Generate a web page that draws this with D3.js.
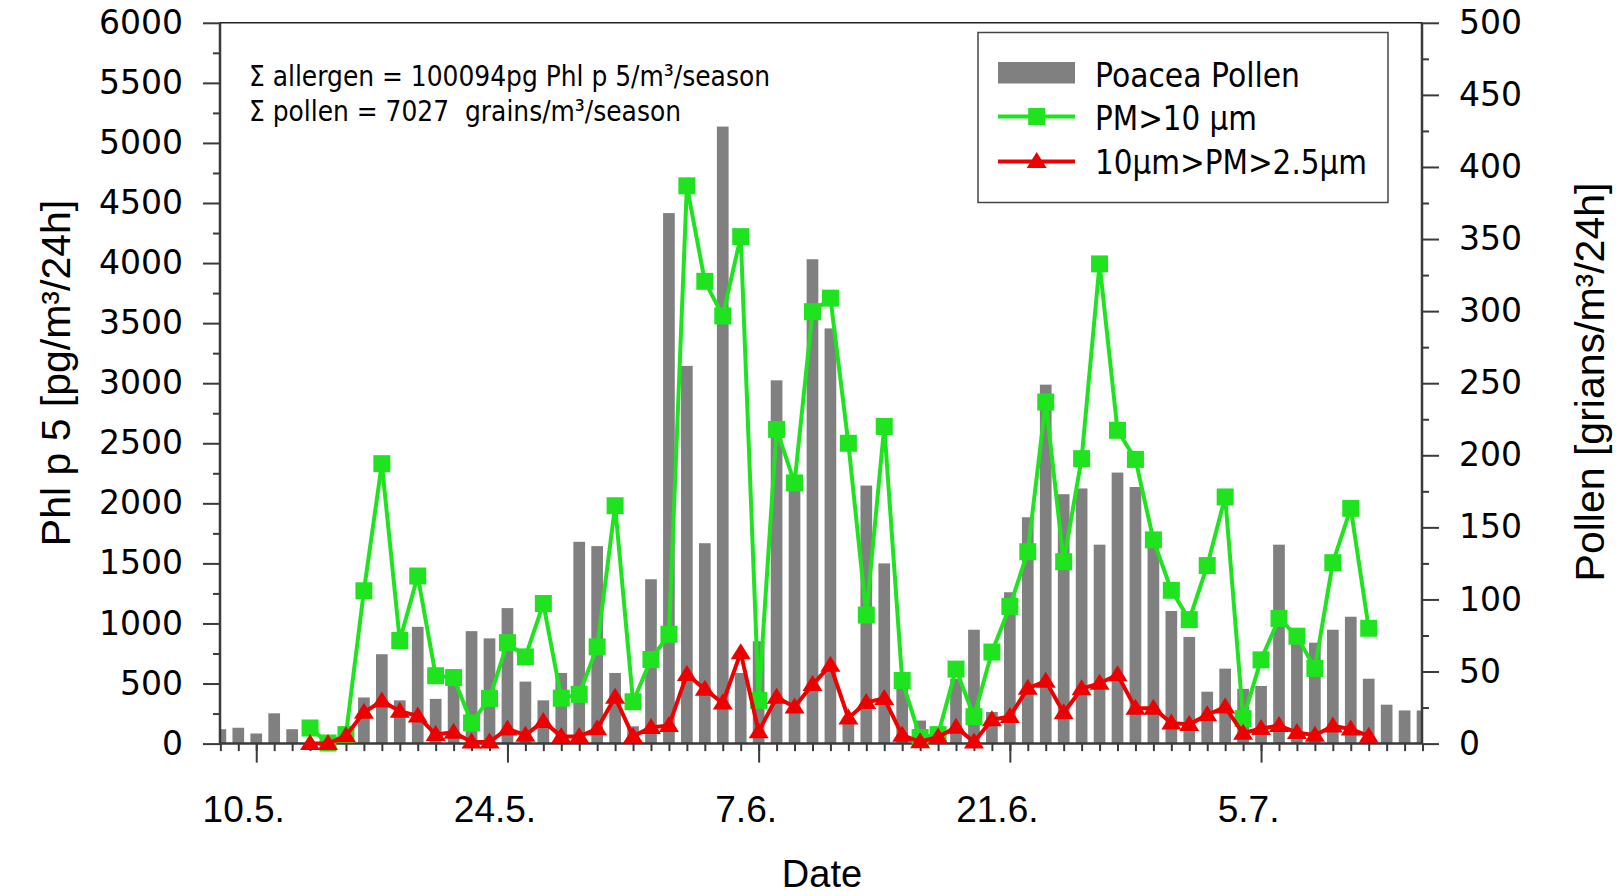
<!DOCTYPE html>
<html><head><meta charset="utf-8">
<script src="https://cdn.jsdelivr.net/npm/d3@7"></script>
<style>body{margin:0;background:#fff}</style>
</head><body>
<svg id="c" width="1624" height="896" xmlns="http://www.w3.org/2000/svg"></svg>
<script>
// ---- data (day offsets relative to 10 May) ----
const barDays = d3.range(-2, 66);
const pollen = [10, 11, 7, 21, 10, 0, 0, 2, 32, 62,
  30, 81, 31, 45, 78, 73, 94, 43, 30, 49,
  140, 137, 49, 12, 114, 368, 262, 139, 428, 49,
  71, 252, 180, 336, 288, 18, 179, 125, 40, 16,
  10, 45, 79, 22, 105, 157, 249, 173, 177, 138,
  188, 178, 137, 92, 74, 36, 52, 38, 40, 138,
  75, 70, 79, 88, 45, 27, 23, 23];
const pmDays = d3.range(3, 63);
const pm10 = [130, 5, 75, 1272, 2330, 858, 1395, 565, 550, 172,
  375, 840, 722, 1166, 378, 410, 805, 1980, 348, 700,
  910, 4643, 3848, 3560, 4220, 360, 2615, 2170, 3595, 3708,
  2500, 1070, 2640, 525, 50, 75, 620, 224, 762, 1142,
  1597, 2843, 1514, 2372, 3993, 2608, 2366, 1696, 1276, 1032,
  1482, 2053, 208, 697, 1042, 894, 626, 1506, 1958, 960];
const pm25 = [0, 0, 65, 260, 355, 270, 230, 75, 95, 14,
  14, 122, 70, 185, 60, 60, 123, 385, 60, 135,
  150, 576, 452, 338, 757, 99, 385, 305, 491, 652,
  213, 343, 375, 70, 15, 55, 137, 13, 198, 226,
  460, 520, 257, 457, 502, 573, 295, 295, 172, 160,
  240, 304, 86, 126, 150, 92, 70, 146, 122, 62];
const dateTickDays = [0, 14, 28, 42, 56];
const dateTickLabels = ["10.5.", "24.5.", "7.6.", "21.6.", "5.7."];
const leftTicks = d3.range(0, 6001, 500);
const rightTicks = d3.range(0, 501, 50);

// ---- layout ----
const L = 220, R = 1422, T = 22.8, B = 743.6;
const GREEN = "#1fe31f", RED = "#ee0000", GRAY = "#808080", AX = "#3a3a3a";
const svg = d3.select("#c");

const x = d3.scaleLinear().domain([-2.02, 64.97]).range([L, R]);
const yL = d3.scaleLinear().domain([0, 6000]).range([B, T]);
const yR = d3.scaleLinear().domain([0, 500]).range([B, T]);
const barW = 11.7;

svg.append("defs").append("clipPath").attr("id", "plotclip")
  .append("rect").attr("x", L).attr("y", 0).attr("width", R - L).attr("height", B);

// bars
svg.append("g").attr("clip-path", "url(#plotclip)")
  .selectAll("rect").data(barDays).join("rect")
  .attr("x", d => x(d) - barW / 2)
  .attr("width", barW)
  .attr("y", (d, i) => yR(pollen[i]))
  .attr("height", (d, i) => B - yR(pollen[i]))
  .attr("fill", GRAY);

// axes
function styleAxis(g) {
  g.select(".domain").remove();
  g.selectAll(".tick line").attr("stroke", AX).attr("stroke-width", 2);
}
const fmt = d3.format("d");
// left
svg.append("g").attr("transform", `translate(${L},0)`)
  .call(d3.axisLeft(yL).tickValues(d3.range(250, 6000, 500)).tickSize(7).tickFormat(""))
  .call(styleAxis);
svg.append("g").attr("transform", `translate(${L},0)`)
  .call(d3.axisLeft(yL).tickValues(leftTicks).tickSize(17).tickPadding(20).tickFormat(fmt))
  .call(styleAxis)
  .call(g => g.selectAll("text").attr("font-family", "DejaVu Sans").attr("font-size", 33).attr("fill", "#000"));
// right
svg.append("g").attr("transform", `translate(${R},0)`)
  .call(d3.axisRight(yR).tickValues(d3.range(25, 500, 50)).tickSize(7).tickFormat(""))
  .call(styleAxis);
svg.append("g").attr("transform", `translate(${R},0)`)
  .call(d3.axisRight(yR).tickValues(rightTicks).tickSize(17).tickPadding(20).tickFormat(fmt))
  .call(styleAxis)
  .call(g => g.selectAll("text").attr("font-family", "DejaVu Sans").attr("font-size", 33).attr("fill", "#000"));
// bottom
svg.append("g").attr("transform", `translate(0,${B})`)
  .call(d3.axisBottom(x).tickValues(barDays).tickSize(7.5).tickFormat(""))
  .call(styleAxis);
svg.append("g").attr("transform", `translate(0,${B})`)
  .call(d3.axisBottom(x).tickValues(dateTickDays).tickSize(19)
    .tickFormat((d, i) => dateTickLabels[i]))
  .call(styleAxis)
  .call(g => g.selectAll("text").attr("font-family", "Liberation Sans").attr("font-size", 37)
    .attr("fill", "#000").attr("dy", null).attr("y", 78).attr("dx", -13));

// frame lines
svg.append("line").attr("x1", L).attr("x2", L).attr("y1", T).attr("y2", B).attr("stroke", AX).attr("stroke-width", 2.5);
svg.append("line").attr("x1", R).attr("x2", R).attr("y1", T).attr("y2", B).attr("stroke", AX).attr("stroke-width", 2.5);
svg.append("line").attr("x1", L).attr("x2", R).attr("y1", B).attr("y2", B).attr("stroke", AX).attr("stroke-width", 2.5);
svg.append("line").attr("x1", L).attr("x2", R).attr("y1", T).attr("y2", T).attr("stroke", "#222").attr("stroke-width", 1.6);

// series
const tri = "M0,-9.5L10,6.5L-10,6.5Z";
function series(vals, color, marker) {
  const line = d3.line().x((d, i) => x(pmDays[i])).y(d => yL(d));
  svg.append("path").datum(vals).attr("d", line).attr("fill", "none")
    .attr("stroke", color).attr("stroke-width", 4).attr("stroke-linejoin", "round");
  const g = svg.append("g");
  if (marker === "square") {
    g.selectAll("rect").data(vals).join("rect")
      .attr("x", (d, i) => x(pmDays[i]) - 8.5).attr("y", d => yL(d) - 8.5)
      .attr("width", 17).attr("height", 17).attr("fill", color);
  } else {
    g.selectAll("path").data(vals).join("path")
      .attr("d", tri)
      .attr("transform", (d, i) => `translate(${x(pmDays[i])},${yL(d)})`)
      .attr("fill", color);
  }
}
series(pm10, GREEN, "square");
series(pm25, RED, "triangle");

// annotation
const ann = svg.append("g").attr("font-family", "DejaVu Sans").attr("font-size", 29).attr("fill", "#000");
ann.append("text").attr("x", 249).attr("y", 86).attr("textLength", 521).attr("lengthAdjust", "spacingAndGlyphs")
  .text("Σ allergen = 100094pg Phl p 5/m³/season");
ann.append("text").attr("x", 249).attr("y", 121).attr("textLength", 432).attr("lengthAdjust", "spacingAndGlyphs")
  .style("white-space", "pre")
  .text("Σ pollen = 7027  grains/m³/season");

// legend
const lg = svg.append("g");
lg.append("rect").attr("x", 978).attr("y", 32.5).attr("width", 410).attr("height", 170)
  .attr("fill", "#fff").attr("stroke", "#444").attr("stroke-width", 1.5);
lg.append("rect").attr("x", 998).attr("y", 62).attr("width", 77).attr("height", 21.5).attr("fill", GRAY);
lg.append("line").attr("x1", 998).attr("x2", 1075).attr("y1", 116.5).attr("y2", 116.5).attr("stroke", GREEN).attr("stroke-width", 4);
lg.append("rect").attr("x", 1036.7 - 8.5).attr("y", 116.5 - 8.5).attr("width", 17).attr("height", 17).attr("fill", GREEN);
lg.append("line").attr("x1", 998).attr("x2", 1075).attr("y1", 161.5).attr("y2", 161.5).attr("stroke", RED).attr("stroke-width", 4);
lg.append("path").attr("d", tri).attr("transform", "translate(1036.7,161.5)").attr("fill", RED);
const legTexts = [["Poacea Pollen", 86.5, 205], ["PM>10 µm", 130, 162], ["10µm>PM>2.5µm", 174, 272]];
lg.selectAll("text.leg").data(legTexts).join("text").attr("class", "leg")
  .attr("x", 1095).attr("y", d => d[1]).attr("textLength", d => d[2]).attr("lengthAdjust", "spacingAndGlyphs")
  .attr("font-family", "DejaVu Sans").attr("font-size", 33).attr("fill", "#000")
  .text(d => d[0]);

// axis titles
function title(txt, tx, ty) {
  svg.append("text").attr("transform", `translate(${tx},${ty}) rotate(-90)`)
    .attr("text-anchor", "middle").attr("font-family", "Liberation Sans").attr("font-size", 41)
    .attr("fill", "#000").text(txt);
}
title("Phl p 5 [pg/m³/24h]", 70, 373);
title("Pollen [grians/m³/24h]", 1604, 382);
svg.append("text").attr("x", 822).attr("y", 887).attr("text-anchor", "middle")
  .attr("font-family", "Liberation Sans").attr("font-size", 38).attr("fill", "#000").text("Date");
</script>
</body></html>
